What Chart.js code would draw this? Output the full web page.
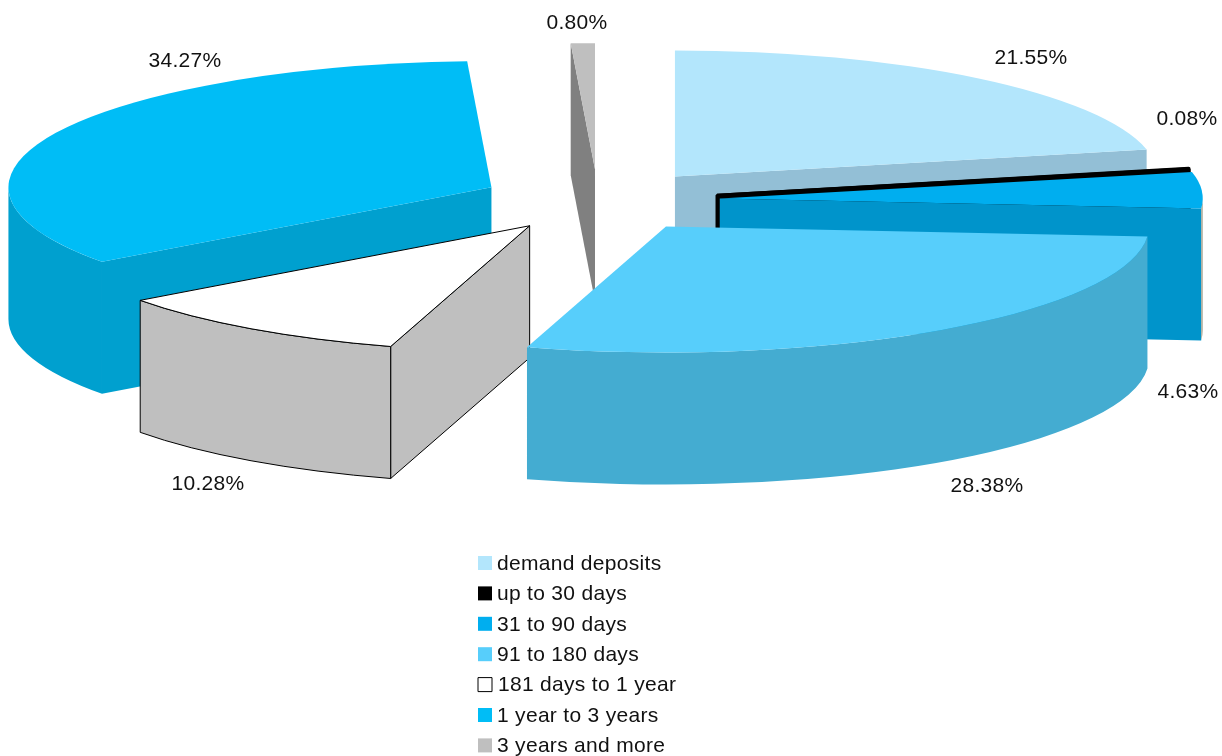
<!DOCTYPE html>
<html>
<head>
<meta charset="utf-8">
<title>Deposits by maturity</title>
<script src="https://cdn.jsdelivr.net/npm/chart.js@4/dist/chart.umd.min.js"></script>
<style>
  html, body { margin: 0; padding: 0; background: #fff; }
  canvas { display: block; }
</style>
</head>
<body>
<canvas id="chart" width="1222" height="756"></canvas>
<script>
const categories = ['demand deposits', 'up to 30 days', '31 to 90 days', '91 to 180 days', '181 days to 1 year', '1 year to 3 years', '3 years and more'];
const shares = [21.55, 0.08, 4.63, 28.38, 10.28, 34.27, 0.80];

const topColors = ['#b3e6fc', '#000000', '#00aeef', '#57cefb', '#ffffff', '#00bdf6', '#bfbfbf'];
const wallColors = ['#93bfd6', '#000000', '#0094cb', '#44acd1', '#bfbfbf', '#00a0cf', '#808080'];
const rimColors = ['#93bfd6', '#000000', '#a8a795', '#44acd1', '#bfbfbf', '#00a0cf', '#808080'];
const outlineColors = ['transparent', '#000000', 'transparent', 'transparent', '#000000', 'transparent', 'transparent'];
const outlineWidths = [0, 3, 0, 0, 1, 0, 0];

// how far each slice is pulled out of the pie, and a small vertical correction
const slicePull = [122.8, 121.8, 122, 120.4, 118.5, 118, 120];
const sliceLift = [1, 1.5, 0, 0, 0, 0, 0];

// slices are painted back to front
const paintOrder = [6, 0, 1, 2, 5, 4, 3];

// label centres, same order as the categories
const labelSpots = [[1031, 58], [1187, 119], [1188, 392], [987, 486], [208, 484], [185, 61], [577, 23]];

const TILT = 0.261;
const DEPTH = 132;
const FONT = '21px "Liberation Sans", Arial, sans-serif';
const TEXT_COLOR = '#111111';

function traceTop(ctx, cx, cy, r, start, end) {
  ctx.beginPath();
  ctx.moveTo(cx, cy);
  ctx.ellipse(cx, cy, r, r * TILT, 0, start, end);
  ctx.closePath();
}

function traceWall(ctx, cx, cy, r, angle) {
  const x = cx + r * Math.cos(angle);
  const y = cy + r * TILT * Math.sin(angle);
  ctx.beginPath();
  ctx.moveTo(cx, cy);
  ctx.lineTo(x, y);
  ctx.lineTo(x, y + DEPTH);
  ctx.lineTo(cx, cy + DEPTH);
  ctx.closePath();
}

function traceRim(ctx, cx, cy, r, from, to) {
  ctx.beginPath();
  ctx.ellipse(cx, cy, r, r * TILT, 0, from, to);
  ctx.ellipse(cx, cy + DEPTH, r, r * TILT, 0, to, from, true);
  ctx.closePath();
}

function paint(ctx, fill, stroke, width) {
  ctx.fillStyle = fill;
  ctx.fill();
  if (width > 0) {
    ctx.strokeStyle = stroke;
    ctx.lineWidth = width;
    ctx.lineJoin = 'bevel';
    ctx.stroke();
  }
}

// Replaces the flat arcs with extruded, tilted ones. Angles, centre and radius come from the pie controller.
const tiltedPie = {
  id: 'tiltedPie',
  beforeDatasetDraw(chart, args) {
    const ctx = chart.ctx;
    const arcs = args.meta.data;
    paintOrder.forEach(i => {
      const arc = arcs[i];
      const { startAngle, endAngle, outerRadius: r } = arc;
      const mid = (startAngle + endAngle) / 2;
      const pull = arc.options.offset;
      const cx = arc.x + pull * Math.cos(mid);
      const cy = arc.y + pull * TILT * Math.sin(mid) + sliceLift[i];
      const line = outlineWidths[i];
      const stroke = outlineColors[i];

      // only walls that face the viewer get painted
      if (Math.cos(startAngle) < 0) {
        traceWall(ctx, cx, cy, r, startAngle);
        paint(ctx, wallColors[i], stroke, line);
      }
      if (Math.cos(endAngle) > 0) {
        traceWall(ctx, cx, cy, r, endAngle);
        paint(ctx, wallColors[i], stroke, line);
      }
      const from = Math.max(startAngle, 0);
      const to = Math.min(endAngle, Math.PI);
      if (to > from) {
        traceRim(ctx, cx, cy, r, from, to);
        paint(ctx, rimColors[i], stroke, line);
      }
      traceTop(ctx, cx, cy, r, startAngle, endAngle);
      paint(ctx, topColors[i], stroke, line);
    });
    return false;
  },
  afterDraw(chart) {
    const ctx = chart.ctx;
    ctx.save();
    ctx.font = FONT;
    ctx.letterSpacing = '0.3px';
    ctx.fillStyle = TEXT_COLOR;
    ctx.textBaseline = 'middle';

    ctx.textAlign = 'center';
    shares.forEach((v, i) => {
      ctx.fillText(v.toFixed(2) + '%', labelSpots[i][0], labelSpots[i][1]);
    });

    ctx.textAlign = 'left';
    categories.forEach((name, i) => {
      const y = 563 + i * 30.4;
      ctx.fillStyle = topColors[i];
      ctx.fillRect(478, y - 7, 14, 14);
      if (outlineWidths[i] === 1) {
        ctx.strokeStyle = '#000000';
        ctx.lineWidth = 1;
        ctx.strokeRect(478, y - 7, 14, 14);
      }
      ctx.fillStyle = TEXT_COLOR;
      ctx.fillText(name, outlineWidths[i] === 1 ? 498 : 497, y + 1);
    });
    ctx.restore();
  }
};

new Chart(document.getElementById('chart'), {
  type: 'pie',
  data: {
    labels: categories,
    datasets: [{
      data: shares,
      backgroundColor: topColors,
      borderWidth: 0,
      offset: slicePull
    }]
  },
  options: {
    responsive: false,
    animation: false,
    radius: 483,
    layout: { padding: { left: 0, right: 26, top: 0, bottom: 355 } },
    plugins: { legend: { display: false }, tooltip: { enabled: false } }
  },
  plugins: [tiltedPie]
});
</script>
</body>
</html>
